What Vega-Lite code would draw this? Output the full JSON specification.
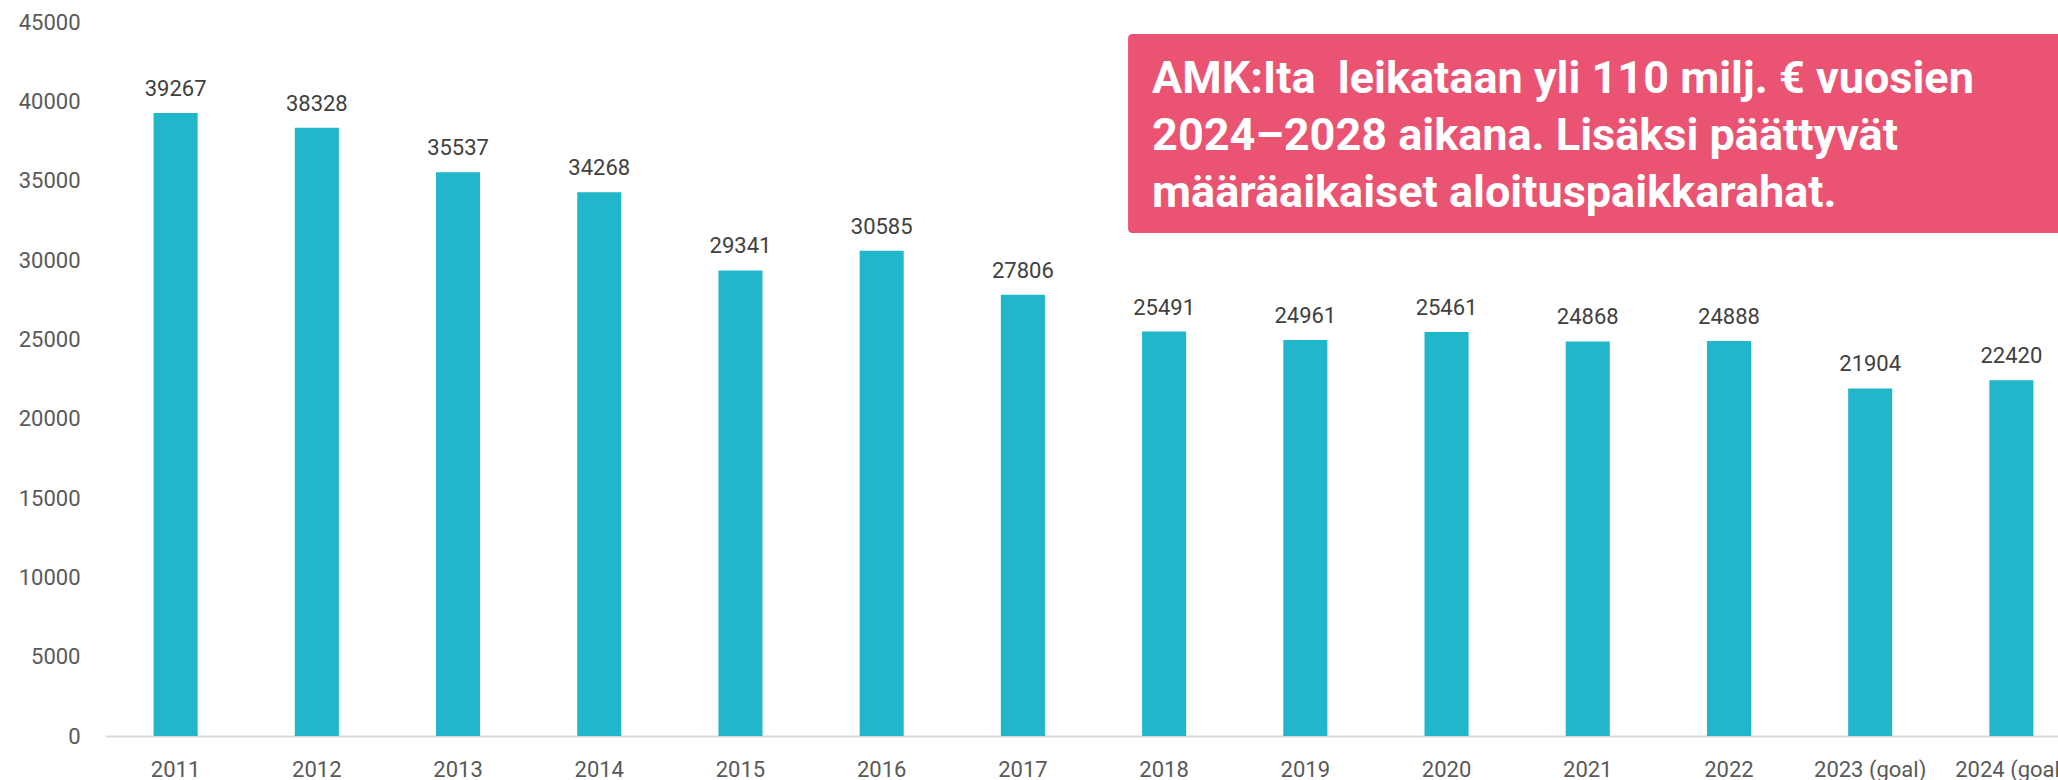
{
  "$schema": "https://vega.github.io/schema/vega-lite/v6.json",
  "autosize": {"type": "none"},
  "padding": {"left": 105, "top": 22, "right": 0, "bottom": 44},
  "width": 1953,
  "height": 714,
  "background": "white",
  "config": {"view": {"stroke": null}, "font": "Roboto"},
  "datasets": {
    "bars": [
      {"year": "2011", "value": 39267},
      {"year": "2012", "value": 38328},
      {"year": "2013", "value": 35537},
      {"year": "2014", "value": 34268},
      {"year": "2015", "value": 29341},
      {"year": "2016", "value": 30585},
      {"year": "2017", "value": 27806},
      {"year": "2018", "value": 25491},
      {"year": "2019", "value": 24961},
      {"year": "2020", "value": 25461},
      {"year": "2021", "value": 24868},
      {"year": "2022", "value": 24888},
      {"year": "2023 (goal)", "value": 21904},
      {"year": "2024 (goal)", "value": 22420}
    ],
    "note": [
      {"x": 7.245, "x2": 14.5, "y": 44244, "y2": 31702, "tx": 7.415, "ty": 40525, "label": "AMK:Ita\u00a0 leikataan yli 110 milj. € vuosien\n2024–2028 aikana. Lisäksi päättyvät\nmääräaikaiset aloituspaikkarahat."}
    ]
  },
  "layer": [
    {
      "data": {"name": "bars"},
      "encoding": {
        "x": {
          "field": "year", "type": "nominal", "sort": null,
          "scale": {"range": [0, 1977], "paddingInner": 0.688, "paddingOuter": 0.344},
          "axis": {"title": null, "labelAngle": 0, "ticks": false, "labelPadding": 23, "labelFontSize": 22, "labelColor": "#595959", "labelFont": "Roboto", "domainColor": "#D9D9D9", "domainWidth": 2, "labelOverlap": false, "grid": false}
        },
        "y": {
          "field": "value", "type": "quantitative",
          "scale": {"domain": [0, 45000], "nice": false},
          "axis": {"title": null, "values": [0, 5000, 10000, 15000, 20000, 25000, 30000, 35000, 40000, 45000], "format": "d", "ticks": false, "domain": false, "grid": false, "labelPadding": 25, "labelFontSize": 22, "labelColor": "#595959", "labelFont": "Roboto", "labelFlush": false}
        }
      },
      "layer": [
        {"mark": {"type": "bar", "color": "#21B6CA"}},
        {"mark": {"type": "text", "dy": -17, "baseline": "alphabetic", "fontSize": 22, "color": "#404040", "font": "Roboto"},
         "encoding": {"text": {"field": "value", "type": "quantitative", "format": "d"}}}
      ]
    },
    {
      "data": {"name": "note"},
      "layer": [
        {"mark": {"type": "rect", "color": "#EA5372", "cornerRadius": 4},
         "encoding": {
           "x": {"field": "x", "type": "quantitative", "scale": {"domain": [0, 14], "range": [0, 1977], "nice": false, "zero": false}, "axis": null},
           "x2": {"field": "x2"},
           "y": {"field": "y", "type": "quantitative", "scale": {"domain": [0, 45000], "nice": false}},
           "y2": {"field": "y2"}
         }},
        {"mark": {"type": "text", "align": "left", "baseline": "alphabetic", "lineBreak": "\n", "lineHeight": 57, "fontSize": 45, "fontWeight": "bold", "font": "Roboto", "color": "white"},
         "encoding": {
           "x": {"field": "tx", "type": "quantitative", "scale": {"domain": [0, 14], "range": [0, 1977], "nice": false, "zero": false}, "axis": null},
           "y": {"field": "ty", "type": "quantitative", "scale": {"domain": [0, 45000], "nice": false}},
           "text": {"field": "label"}
         }}
      ]
    }
  ],
  "resolve": {"scale": {"x": "independent"}}
}
